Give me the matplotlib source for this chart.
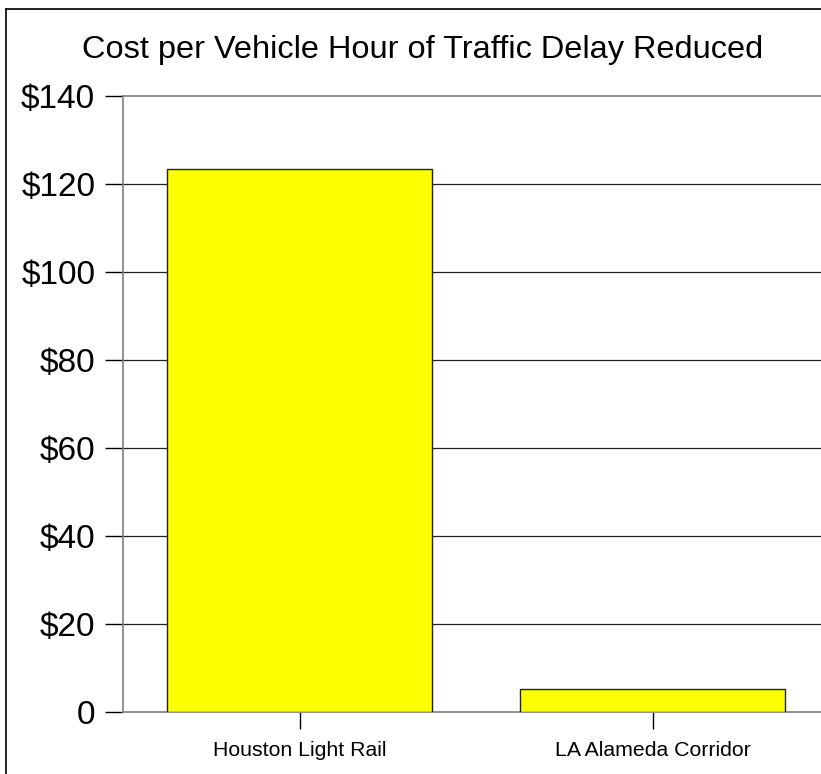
import matplotlib
matplotlib.use("Agg")
import matplotlib.pyplot as plt
from matplotlib.lines import Line2D

# data
categories = ["Houston Light Rail", "LA Alameda Corridor"]
values = [123.5, 5.2]
yticks = [0, 20, 40, 60, 80, 100, 120, 140]
ytick_labels = ["0", "$20", "$40", "$60", "$80", "$100", "$120", "$140"]

plt.rcParams['font.family'] = ['Liberation Sans', 'DejaVu Sans']

fig = plt.figure(figsize=(8.21, 7.74), dpi=100)
ax = fig.add_axes([0.1498, 0.0801, 0.860, 0.7959])

x = range(len(categories))
ax.bar(x, values, width=0.75, color="#ffff00", edgecolor="#222222", linewidth=1.0, zorder=3)

ax.set_xlim(-0.5, 1.5)
ax.set_ylim(0, 140)
ax.set_yticks(yticks)
ax.set_yticklabels(ytick_labels, fontsize=24)
ax.set_xticks(list(x))
ax.set_xticklabels(categories, fontsize=15.3)

ax.tick_params(axis="y", length=13, width=1, color="black", pad=7)
ax.tick_params(axis="x", length=12, width=1, color="black", pad=9)

for v in yticks[1:-1]:
    ax.axhline(v, color="#222222", linewidth=0.9, zorder=1)

for side in ("left", "bottom", "top"):
    ax.spines[side].set_color("#808080")
    ax.spines[side].set_linewidth(1.2)
ax.spines["right"].set_visible(False)

fig.text(0.5146, 0.936, "Cost per Vehicle Hour of Traffic Delay Reduced",
         ha="center", va="center", fontsize=23.4)

# outer frame (left and top edges visible)
fig.add_artist(Line2D([0.0073, 0.0073], [0.0, 0.988], color="black", linewidth=1.2,
                      transform=fig.transFigure))
fig.add_artist(Line2D([0.0073, 1.0], [0.988, 0.988], color="black", linewidth=1.2,
                      transform=fig.transFigure))

fig.savefig("out.png", dpi=100)
